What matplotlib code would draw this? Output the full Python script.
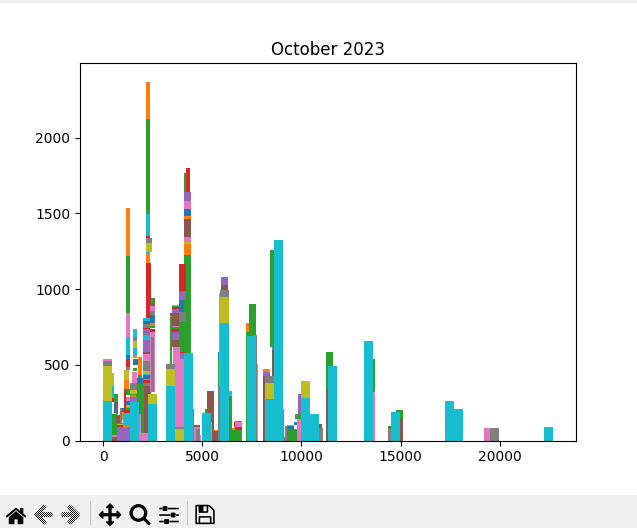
import os
import matplotlib
matplotlib.use("Agg")
import matplotlib.pyplot as plt
from matplotlib.patches import Rectangle

W, H = 637, 528
title = "October 2023"
x_ticks = [0, 5000, 10000, 15000, 20000]
y_ticks = [0, 500, 1000, 1500, 2000]
x_range = (-1175, 23850)
y_range = (0, 2490)

# each series: centre, bar width, bar bottom, bar top
blue_x = [2192, 2192, 1260, 3430, 4262, 4010, 604, 957, 1848, 1637, 2494, 5850, 9458, 9710, 14608, 1259]
blue_w = [354, 354, 200, 100, 350, 350, 100, 200, 350, 250, 250, 100, 350, 150, 270, 200]
blue_lo = [405, 771, 235, 820, 1480, 850, 180, 188, 374, 500, 776, 533, 75, 102, 0, 537]
blue_hi = [434, 787, 261, 843, 1526, 930, 257, 215, 410, 540, 831, 586, 96, 122, 75, 566]

orange_x = [1259, 2270, 2270, 4262, 4262, 3430, 1184, 1864, 1184, 1536, 1612, 2494, 5723, 6337, 6580, 7286, 8244, 10744, 1008, 1260]
orange_w = [200, 200, 200, 350, 350, 100, 250, 200, 350, 350, 200, 250, 250, 350, 150, 150, 350, 250, 100, 200]
orange_lo = [1221, 2122, 1175, 1466, 1228, 800, 312, 433, 88, 290, 544, 757, 66, 295, 73, 718, 453, 0, 135, 213]
orange_hi = [1533, 2370, 1235, 1480, 1301, 820, 400, 550, 96, 300, 559, 776, 73, 300, 80, 778, 473, 88, 186, 224]

green_x = [1259, 2270, 4262, 4136, 4010, 579, 654, 2494, 2494, 1259, 1865, 3657, 3657, 5194, 5850, 6337, 6757, 6833, 7412, 7538, 8588, 9535, 9837, 11425, 13533, 13466, 14608, 14953, 1536, 856, 1612, 1865, 3426, 1260]
green_w = [200, 200, 350, 100, 350, 250, 200, 250, 250, 200, 400, 350, 350, 100, 100, 350, 500, 350, 400, 350, 350, 500, 300, 350, 350, 500, 470, 350, 350, 300, 200, 200, 100, 200]
green_lo = [842, 1493, 577, 1638, 586, 35, 257, 908, 742, 301, 0, 734, 881, 0, 0, 0, 0, 122, 0, 692, 619, 0, 141, 340, 320, 0, 88, 141, 300, 110, 460, 411, 506, 202]
green_hi = [1221, 2122, 1228, 1764, 784, 175, 308, 943, 757, 338, 374, 747, 890, 208, 533, 295, 73, 129, 718, 904, 1261, 75, 175, 585, 537, 155, 95, 201, 310, 115, 482, 433, 815, 213]

red_x = [1259, 2270, 2292, 2192, 2192, 4010, 4287, 3657, 3657, 4010, 504, 856, 1108, 2494, 6833, 6656, 14608, 1260]
red_w = [200, 200, 250, 354, 354, 350, 200, 350, 350, 350, 100, 300, 100, 250, 350, 100, 470, 200]
red_lo = [488, 1340, 810, 738, 380, 990, 1638, 718, 870, 575, 257, 85, 179, 718, 73, 92, 82, 179]
red_hi = [537, 1350, 1175, 742, 400, 1168, 1797, 734, 881, 586, 280, 100, 340, 740, 92, 122, 88, 202]

purple_x = [1259, 2192, 2192, 4262, 4010, 3657, 3657, 3985, 1032, 1536, 6127, 8244, 8588, 9913]
purple_w = [200, 354, 354, 350, 350, 350, 350, 200, 655, 350, 354, 350, 200, 150]
purple_lo = [467, 705, 584, 1579, 930, 665, 840, 540, 0, 255, 1029, 427, 599, 175]
purple_hi = [488, 738, 665, 1638, 990, 718, 870, 575, 88, 290, 1082, 453, 619, 307]

brown_x = [580, 2242, 2192, 3657, 3657, 4262, 755, 4716, 5421, 5673, 6127, 8244, 8588, 10862, 11425, 14953, 2494, 706]
brown_w = [250, 354, 354, 350, 350, 350, 200, 350, 350, 350, 354, 350, 200, 300, 350, 350, 250, 100]
brown_lo = [0, 0, 573, 617, 758, 1347, 115, 92, 0, 0, 996, 0, 275, 0, 0, 0, 886, 175]
brown_hi = [25, 361, 584, 665, 840, 1466, 170, 103, 328, 66, 1029, 427, 599, 108, 340, 141, 908, 257]

pink_x = [227, 580, 1259, 1259, 1612, 2192, 2049, 1864, 2494, 2494, 3808, 3708, 3657, 4262, 4262, 4716, 4909, 5472, 6000, 6833, 7700, 9888, 13533, 9458, 19373, 1588]
pink_w = [454, 250, 200, 200, 200, 354, 437, 100, 250, 250, 560, 350, 350, 350, 350, 350, 60, 60, 300, 350, 260, 200, 350, 350, 300, 250]
pink_lo = [526, 25, 687, 261, 731, 526, 0, 0, 853, 321, 92, 540, 747, 1314, 1526, 0, 0, 0, 0, 92, 0, 0, 0, 96, 0, 378]
pink_hi = [540, 35, 842, 290, 736, 573, 48, 175, 886, 718, 540, 617, 758, 1347, 1579, 92, 40, 126, 974, 122, 506, 141, 320, 103, 82, 455]

gray_x = [227, 2295, 2192, 2192, 2192, 2192, 4010, 4338, 4791, 5816, 6127, 7600, 8395, 8848, 9193, 9226, 9762, 10946, 14608, 19752, 1536, 3401, 2494, 2494, 1612, 3855, 907]
gray_w = [454, 300, 354, 354, 354, 354, 350, 500, 200, 100, 454, 330, 454, 510, 150, 100, 150, 250, 470, 454, 350, 454, 150, 250, 200, 454, 100]
gray_lo = [493, 1307, 742, 694, 460, 361, 784, 0, 0, 0, 950, 0, 380, 0, 0, 0, 155, 0, 0, 0, 334, 473, 321, 831, 656, 75, 113]
gray_hi = [526, 1340, 771, 705, 526, 380, 850, 208, 79, 361, 996, 698, 427, 208, 26, 96, 175, 82, 82, 82, 378, 506, 687, 853, 683, 88, 212]

olive_x = [227, 504, 856, 2295, 1184, 1536, 1612, 2192, 2494, 3401, 4262, 3657, 3855, 6127, 8395, 10215, 1260]
olive_w = [454, 100, 300, 300, 250, 350, 200, 354, 454, 454, 350, 350, 454, 454, 454, 454, 200]
olive_lo = [259, 360, 100, 1248, 400, 310, 612, 440, 240, 360, 1301, 890, 0, 778, 275, 280, 224]
olive_hi = [493, 445, 110, 1307, 467, 334, 656, 460, 308, 473, 1314, 897, 75, 950, 380, 393, 235]

cyan_x = [227, 504, 1184, 1587, 1259, 1612, 1612, 2270, 2270, 2192, 2192, 2192, 2192, 2494, 3401, 4312, 5220, 6127, 6337, 7488, 8395, 8848, 10215, 10669, 11576, 13390, 14751, 17480, 17935, 22476]
cyan_w = [454, 100, 350, 454, 200, 200, 200, 200, 200, 354, 354, 354, 354, 454, 454, 454, 454, 454, 350, 454, 454, 454, 454, 454, 454, 454, 454, 454, 454, 454]
cyan_lo = [0, 280, 96, 0, 566, 683, 559, 1350, 1235, 787, 665, 434, 400, 0, 0, 0, 0, 0, 300, 0, 0, 0, 0, 0, 0, 0, 0, 0, 0, 0]
cyan_hi = [259, 360, 184, 255, 683, 731, 612, 1493, 1248, 808, 694, 440, 405, 240, 360, 579, 179, 778, 325, 692, 275, 1321, 280, 175, 493, 658, 188, 261, 208, 90]

series = [
    ("tab:blue", blue_x, blue_w, blue_lo, blue_hi),
    ("tab:orange", orange_x, orange_w, orange_lo, orange_hi),
    ("tab:green", green_x, green_w, green_lo, green_hi),
    ("tab:red", red_x, red_w, red_lo, red_hi),
    ("tab:purple", purple_x, purple_w, purple_lo, purple_hi),
    ("tab:brown", brown_x, brown_w, brown_lo, brown_hi),
    ("tab:pink", pink_x, pink_w, pink_lo, pink_hi),
    ("tab:gray", gray_x, gray_w, gray_lo, gray_hi),
    ("tab:olive", olive_x, olive_w, olive_lo, olive_hi),
    ("tab:cyan", cyan_x, cyan_w, cyan_lo, cyan_hi),
]

fig = plt.figure(figsize=(W / 100, H / 100), dpi=100, facecolor="white")
ax = fig.add_axes([80 / W, 1 - 440.6 / H, 496 / W, 377.2 / H])
for color, xs, ws, los, his in series:
    ax.bar(xs, [h - l for h, l in zip(his, los)], width=ws, bottom=los, color=color)
ax.set_xlim(*x_range)
ax.set_ylim(*y_range)
ax.set_xticks(x_ticks)
ax.set_yticks(y_ticks)
ax.set_title(title, fontsize=12)

# window chrome: top strip and toolbar
def chrome(x0, y_top, w, h, color):
    fig.add_artist(Rectangle((x0 / W, 1 - (y_top + h) / H), w / W, h / H,
                             transform=fig.transFigure, facecolor=color,
                             edgecolor="none", zorder=0))

chrome(0, 0, W, 3, "#f0f0f0")
chrome(0, 495, W, 33, "#f0f0f0")
chrome(90, 501, 1, 24, "#c0c0c0")
chrome(187, 501, 1, 24, "#c0c0c0")

icon_dir = os.path.join(matplotlib.get_data_path(), "images")
icons = [("home", 16), ("back", 43), ("forward", 71), ("move", 110),
         ("zoom_to_rect", 140), ("subplots", 169), ("filesave", 205)]
for name, cx in icons:
    img = plt.imread(os.path.join(icon_dir, name + ".png")).copy()
    if name in ("back", "forward"):
        # the disabled history buttons are dithered in the window toolbar
        img[::2, ::2, 3] = 0
        img[1::2, 1::2, 3] = 0
    fig.figimage(img, xo=cx - img.shape[1] // 2, yo=H - 514 - img.shape[0] // 2,
                 origin="upper", zorder=5)

fig.savefig("out.png", dpi=100)
